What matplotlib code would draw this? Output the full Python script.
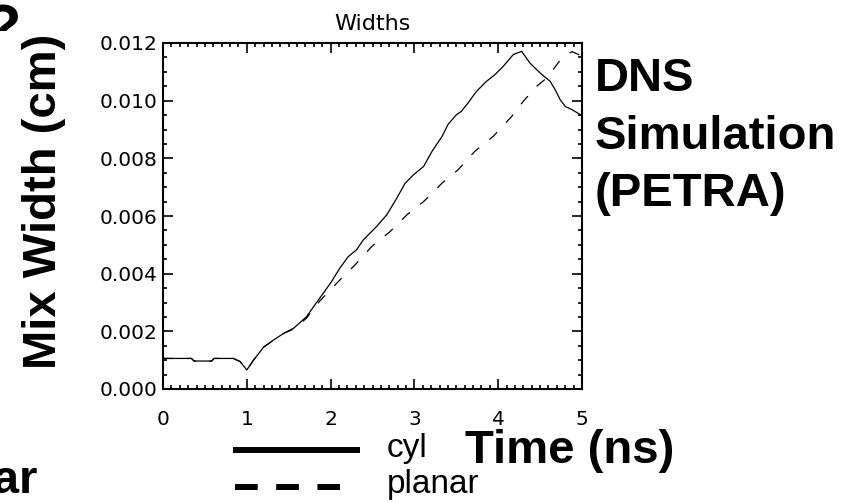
import numpy as np
import matplotlib
matplotlib.use('Agg')
from matplotlib import pyplot as plt
from matplotlib.lines import Line2D
from matplotlib.transforms import Bbox

# mix width vs time
t_cyl = [0.0, 0.34, 0.37, 0.58, 0.61, 0.84, 0.92, 1.0, 1.08, 1.2, 1.32, 1.44, 1.56, 1.71,
         1.87, 2.01, 2.11, 2.21, 2.31, 2.39, 2.55, 2.67, 2.79, 2.89, 2.99, 3.11, 3.21, 3.33,
         3.40, 3.50, 3.56, 3.64, 3.74, 3.86, 3.96, 4.06, 4.18, 4.28, 4.38, 4.50, 4.62, 4.68,
         4.74, 4.80, 4.88, 5.0]
w_cyl = [0.00106, 0.00106, 0.00097, 0.00097, 0.00106, 0.00106, 0.00095, 0.00066, 0.00100,
         0.00145, 0.0017, 0.00193, 0.00211, 0.0025, 0.00315, 0.00372, 0.00419, 0.00459,
         0.00483, 0.00517, 0.00564, 0.00604, 0.00662, 0.00714, 0.00743, 0.00772, 0.00824,
         0.00876, 0.00917, 0.00951, 0.00963, 0.00992, 0.01032, 0.01067, 0.0109, 0.01119,
         0.0116, 0.01171, 0.0113, 0.01096, 0.01067, 0.01038, 0.01003, 0.0098, 0.00969, 0.00948]

t_pl = [0.0, 0.34, 0.37, 0.58, 0.61, 0.84, 0.92, 1.0, 1.08, 1.2, 1.32, 1.44, 1.56, 1.71,
        1.87, 2.09, 2.29, 2.49, 2.71, 2.91, 3.11, 3.33, 3.52, 3.72, 3.94, 4.16, 4.30, 4.46,
        4.58, 4.70, 4.76, 4.88, 4.96, 5.0]
w_pl = [0.00106, 0.00106, 0.00097, 0.00097, 0.00106, 0.00106, 0.00095, 0.00066, 0.00100,
        0.00145, 0.0017, 0.00193, 0.00208, 0.00245, 0.00305, 0.00372, 0.0043, 0.00494,
        0.00546, 0.00604, 0.0065, 0.00714, 0.0076, 0.00824, 0.00876, 0.00945, 0.00998,
        0.0105, 0.01079, 0.01125, 0.01148, 0.0117, 0.0116, 0.0115]

xticks = [0, 1, 2, 3, 4, 5]
yticks = [0.000, 0.002, 0.004, 0.006, 0.008, 0.010, 0.012]

W, H = 858, 503
fig = plt.figure(figsize=(W/100, H/100), dpi=100)
ax = fig.add_axes([163/W, 1 - 389/H, (582-163)/W, (389-43)/H])

ax.plot(t_cyl, w_cyl, color='black', lw=0.9)
ax.plot(t_pl, w_pl, color='black', lw=0.9, dashes=(8.5, 10.5))

ax.set_xlim(0, 5)
ax.set_ylim(0, 0.012)
ax.set_xticks(xticks)
ax.set_xticklabels([str(v) for v in xticks])
ax.set_yticks(yticks)
ax.set_yticklabels(['%.3f' % v for v in yticks])
ax.set_xticks(np.arange(0, 5.0001, 0.1), minor=True)
ax.set_yticks(np.arange(0, 0.0120001, 0.0005), minor=True)
ax.tick_params(which='both', direction='in', top=True, right=True, width=1.2, colors='black')
ax.tick_params(which='major', length=7.5)
ax.tick_params(which='minor', length=3.2)
ax.tick_params(axis='x', which='major', pad=15, labelsize=14.5)
ax.tick_params(axis='y', which='major', pad=4, labelsize=14.5)
for s in ax.spines.values():
    s.set_linewidth(1.5)
ax.set_title('Widths', fontsize=16, pad=9)

big = dict(family='Liberation Sans', fontweight='bold', fontsize=34)
fig.text(44/W, 1 - 201/H, 'Mix Width (cm)', rotation=90, ha='center', va='center', **big)
fig.text(595/W, 1 - 57/H, 'DNS\nSimulation\n(PETRA)', ha='left', va='top', linespacing=1.4, **big)
fig.text(465/W, 1 - 463/H, 'Time (ns)', ha='left', va='baseline', **big)
fig.text(38/W, 1 - 493/H, 'Planar', ha='right', va='baseline', **big)
q = fig.text(2/W, 1 - 47/H, '?', ha='center', va='baseline',
             family='Liberation Sans', fontweight='bold', fontsize=44)
q.set_clip_box(Bbox.from_extents(0, H - 31, 60, H))
q.set_clip_on(True)

# legend keys
fig.add_artist(Line2D([233/W, 360/W], [1 - 450/H, 1 - 450/H], color='black', lw=4.3,
                      solid_capstyle='butt', transform=fig.transFigure))
fig.add_artist(Line2D([235/W, 340/W], [1 - 487/H, 1 - 487/H], color='black', lw=4.3,
                      dashes=(3.8, 3.1), dash_capstyle='butt', transform=fig.transFigure))
fig.text(387/W, 1 - 457/H, 'cyl', family='Liberation Sans', fontsize=24, ha='left', va='baseline')
fig.text(387/W, 1 - 493/H, 'planar', family='Liberation Sans', fontsize=24, ha='left', va='baseline')

fig.savefig('out.png', dpi=100)
